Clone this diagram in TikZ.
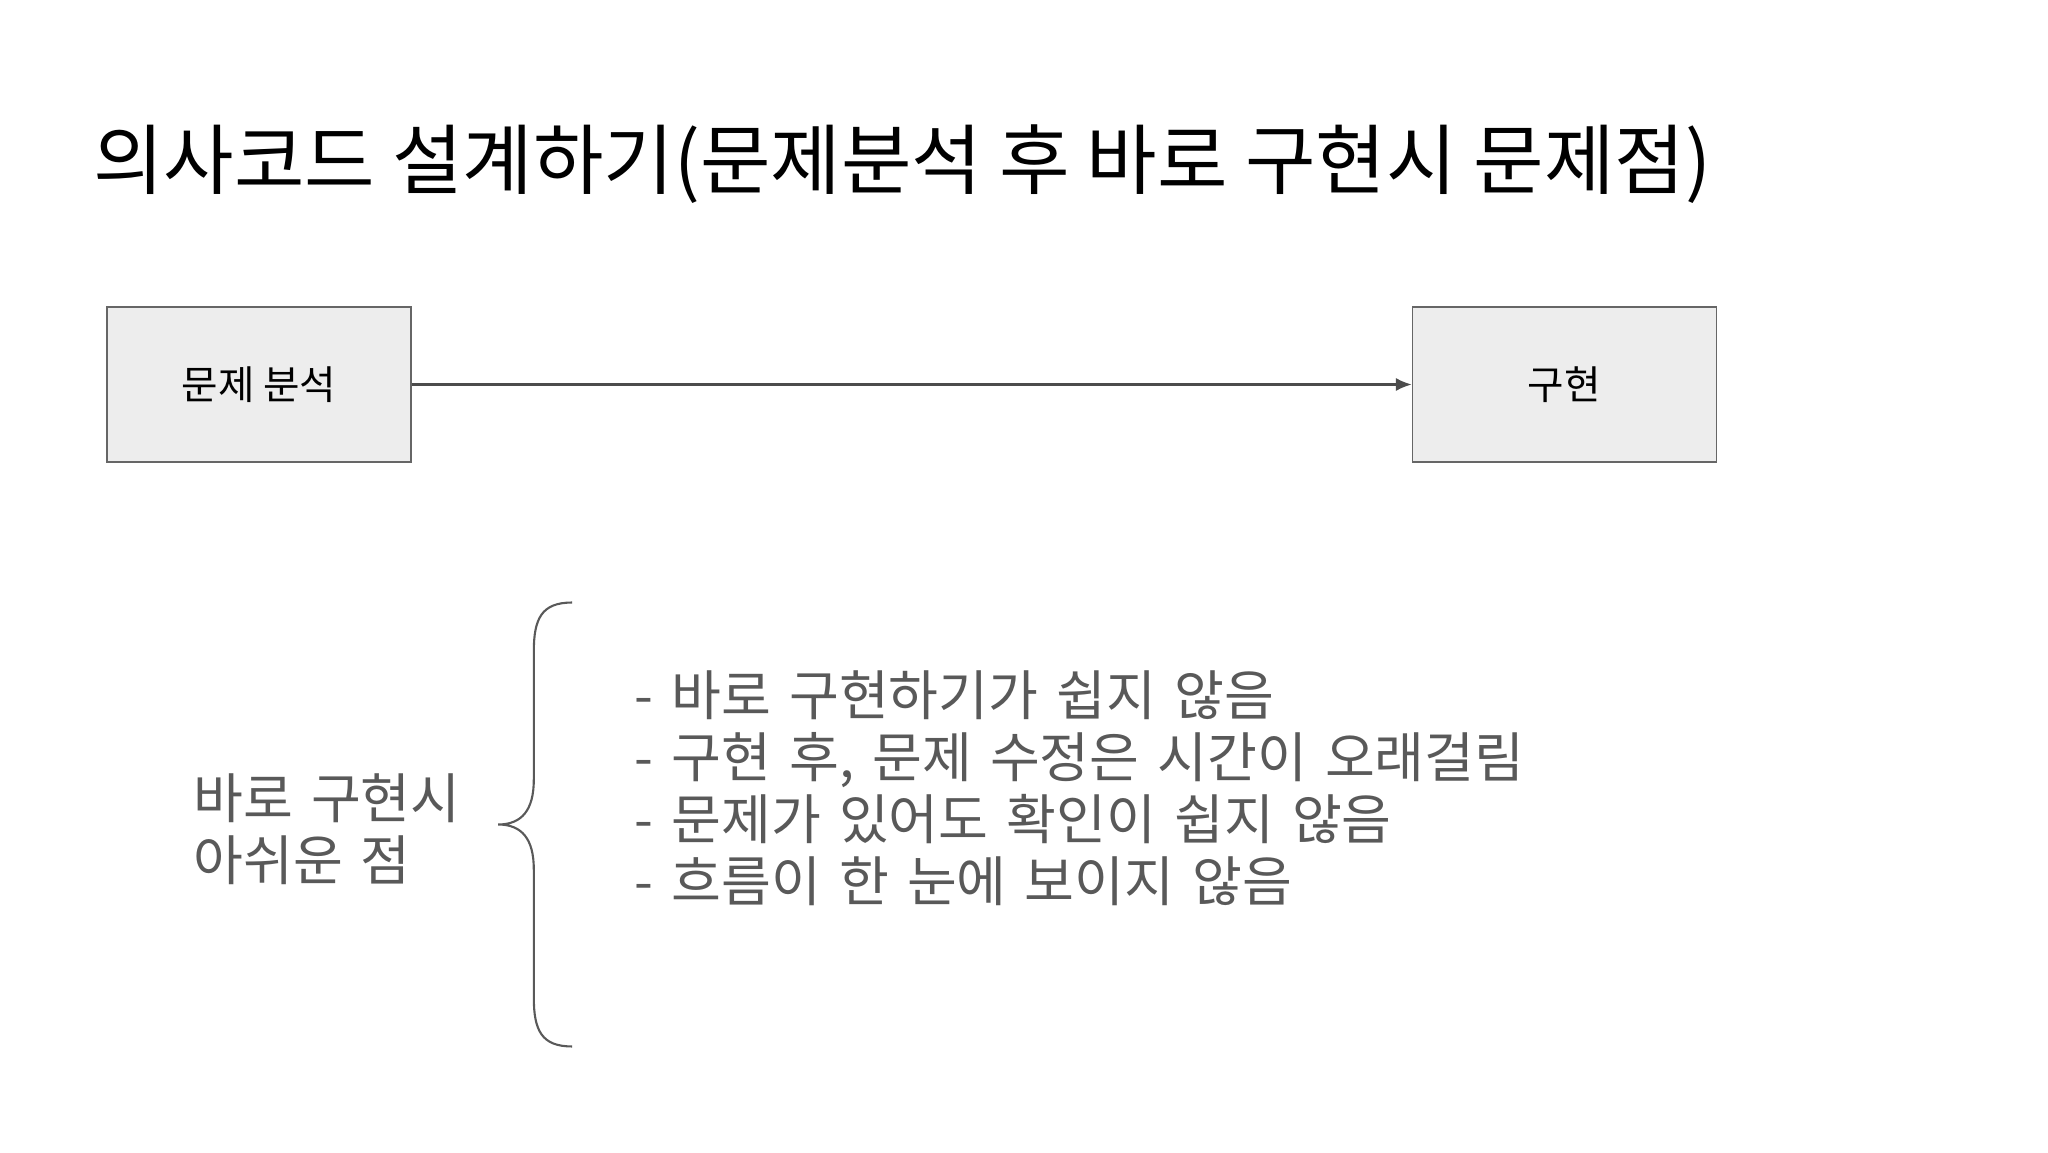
\documentclass[tikz,border=0pt]{standalone}
\usepackage{fontspec}
\usetikzlibrary{arrows.meta}
\setmainfont{Noto Sans CJK KR}
\begin{document}
\begin{tikzpicture}[x=0.5pt,y=-0.5pt,
  box/.style={draw=black!60,fill=black!7,line width=0.6pt,minimum width=115pt,minimum height=58.5pt,inner sep=0pt,font=\fontsize{15}{18}\selectfont},
  gtext/.style={text=black!65,font=\fontsize{20.5}{24}\selectfont,anchor=north west,align=left,inner sep=0pt}]
\useasboundingbox (0,0) rectangle (1550,872);
\node[anchor=west,inner sep=0pt,font=\fontsize{29}{32}\selectfont] (title) at (70,124) {의사코드 설계하기(문제분석 후 바로 구현시 문제점)};
\node[box] (a) at (196,291) {문제 분석};
\node[box] (b) at (1184,291) {구현};
\draw[black!70,line width=0.8pt,-{Latex[length=6pt,width=5pt]}] (a) -- (b);
\node[gtext,text width=240pt,font=\fontsize{20.5}{23.5}\selectfont] (left) at (146,585) {바로 구현시\\아쉬운 점};
\node[gtext,text width=400pt,font=\fontsize{20.5}{23.5}\selectfont] (list) at (480,507) {- 바로 구현하기가 쉽지 않음\\- 구현 후, 문제 수정은 시간이 오래걸림\\- 문제가 있어도 확인이 쉽지 않음\\- 흐름이 한 눈에 보이지 않음};
\coordinate (bt) at (433,456);
\coordinate (bm) at (377,624);
\coordinate (bb) at (433,792);
\draw[black!65,line width=0.8pt] (bt) .. controls (410,456) and (404,468) .. (404,493) -- (404,590) .. controls (404,613) and (395,624) .. (bm) .. controls (395,624) and (404,635) .. (404,658) -- (404,755) .. controls (404,780) and (410,792) .. (bb);
\end{tikzpicture}
\end{document}
